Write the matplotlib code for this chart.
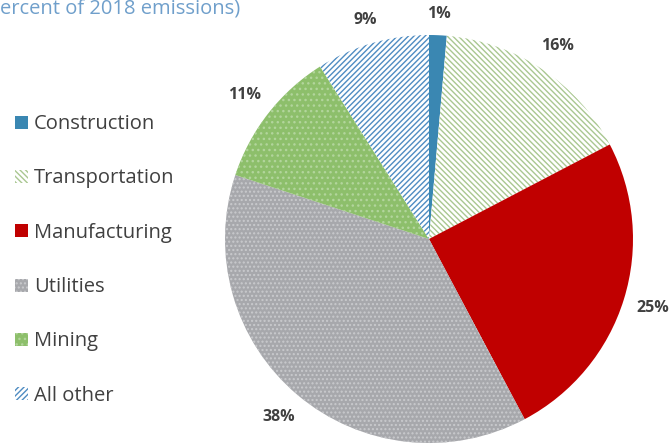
import numpy as np
import matplotlib.pyplot as plt
from matplotlib.patches import Patch

plt.rcParams['font.family'] = ['Open Sans', 'DejaVu Sans']

sectors = ['Construction', 'Transportation', 'Manufacturing', 'Utilities', 'Mining', 'All other']
shares = [1.4, 16, 25, 38, 11, 9]
share_labels = ['1%', '16%', '25%', '38%', '11%', '9%']

faces = ['#3a87b2', 'white', '#c00000', '#a7a8ac', '#8dbf6b', 'white']
hatch_cols = ['#3a87b2', '#a9c791', '#c00000', '#c9cacd', '#b2d59c', '#4f8cc2']
hatches = [None, '\\\\\\\\\\\\', None, '....', '...', '//////']

cx, cy, r = 429, 205, 204

fig = plt.figure(figsize=(6.7, 4.44), dpi=100)
ax = fig.add_axes([0, 0, 1, 1])

wedges, _ = ax.pie(shares, center=(cx, cy), radius=r, startangle=90,
                   counterclock=False, colors=faces,
                   wedgeprops=dict(linewidth=0))
for w, ec, h in zip(wedges, hatch_cols, hatches):
    w.set_edgecolor(ec)
    if h:
        w.set_hatch(h)

# percentage labels just outside the rim, pushed out by half the label size
start = 90.0
total = sum(shares)
for val, lab in zip(shares, share_labels):
    span = 360.0 * val / total
    mid = np.deg2rad(start - span / 2)
    start -= span
    d = r + 12 + abs(np.cos(mid)) * 17 + abs(np.sin(mid)) * 8
    ax.text(cx + d * np.cos(mid), cy + d * np.sin(mid), lab,
            ha='center', va='center', fontsize=11.5, fontweight='bold', color='#404040')

ax.set_xlim(0, 670)
ax.set_ylim(0, 444)
ax.set_aspect('equal')
ax.axis('off')

handles = [Patch(facecolor=f, edgecolor=e, hatch=h, linewidth=0)
           for f, e, h in zip(faces, hatch_cols, hatches)]
fig.legend(handles, sectors, loc='upper left', bbox_to_anchor=(-3 / 670, 1 - 96 / 444),
           frameon=False, fontsize=14.5, handlelength=0.62, handleheight=0.62,
           handletextpad=0.3, labelspacing=1.705, labelcolor='#404040')

fig.text(0, 1 + 1 / 444, 'ercent of 2018 emissions)', ha='left', va='top',
         fontsize=14.5, color='#6f9fcb')

fig.savefig('out.png', dpi=100)
